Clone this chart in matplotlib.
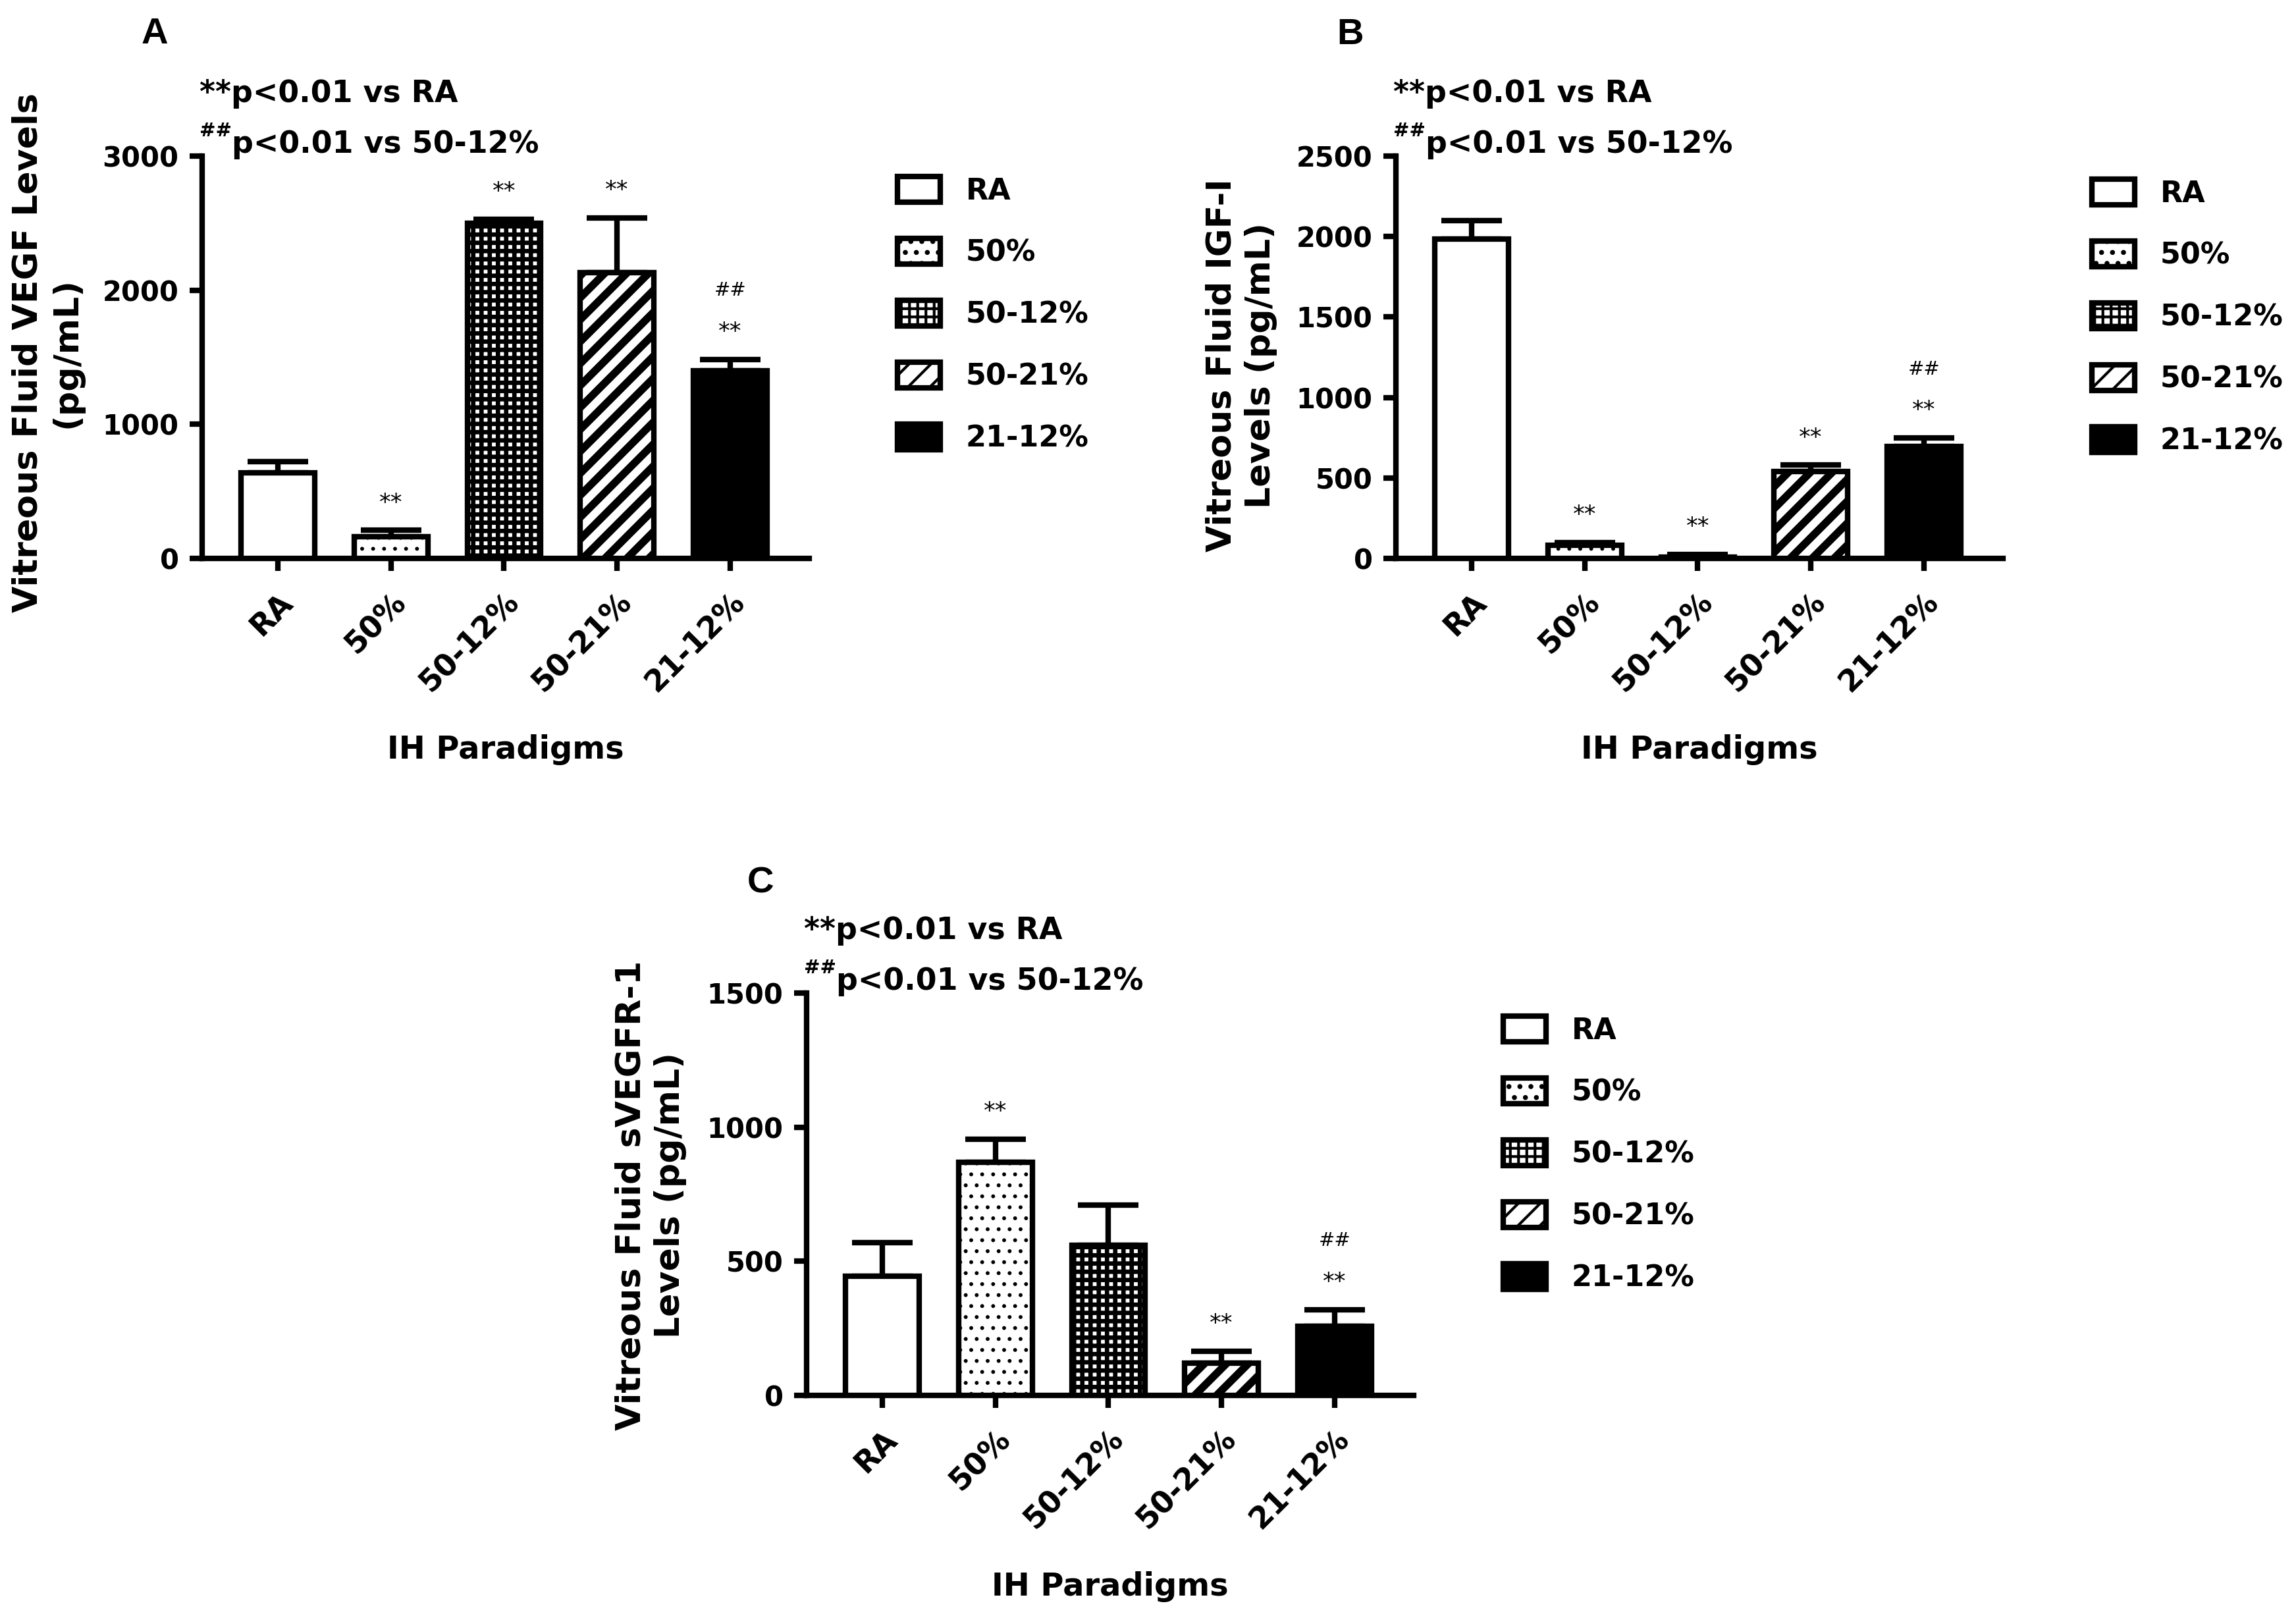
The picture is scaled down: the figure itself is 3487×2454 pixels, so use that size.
import numpy as np
import matplotlib
matplotlib.use('Agg')
import matplotlib.pyplot as plt

# ---------------- data ----------------
categories = ['RA', '50%', '50-12%', '50-21%', '21-12%']

vegf_mean = [640, 160, 2500, 2130, 1400]
vegf_sem = [80, 50, 30, 410, 85]
vegf_star = [False, True, True, True, True]
vegf_hash = [False, False, False, False, True]
vegf_ticks = [0, 1000, 2000, 3000]

igf_mean = [1985, 80, 10, 540, 695]
igf_sem = [115, 20, 15, 40, 55]
igf_star = [False, True, True, True, True]
igf_hash = [False, False, False, False, True]
igf_ticks = [0, 500, 1000, 1500, 2000, 2500]

sv_mean = [445, 870, 560, 120, 258]
sv_sem = [125, 85, 150, 45, 62]
sv_star = [False, True, False, True, True]
sv_hash = [False, False, False, False, True]
sv_ticks = [0, 500, 1000, 1500]

note_star = '**p<0.01 vs RA'
note_hash_sup = '##'
note_hash = 'p<0.01 vs 50-12%'
xlabel = 'IH Paradigms'

# ---------------- styling ----------------
W, H = 3487, 2454
DPI = 300
plt.rcParams['font.family'] = ['DejaVu Sans']
plt.rcParams['font.weight'] = 'bold'

styles = [
    dict(facecolor='white', hatch=None, hlw=1.0),
    dict(facecolor='white', hatch='...', hlw=0.6),
    dict(facecolor='white', hatch='++++', hlw=1.6),
    dict(facecolor='white', hatch='///', hlw=2.8),
    dict(facecolor='black', hatch=None, hlw=1.0),
]

fig = plt.figure(figsize=(W / DPI, H / DPI), dpi=DPI)

AX_W, AX_H = 922, 611


def make_axes(left_px, axis_y_px):
    return fig.add_axes([left_px / W, 1 - axis_y_px / H, AX_W / W, AX_H / H])


def panel(ax, means, sems, stars, hashes, ticks, letter, letter_xy, ylab, ylab_xy, leg_xy):
    x = np.arange(len(categories))
    patches = []
    for i in range(len(categories)):
        st = styles[i]
        with plt.rc_context({'hatch.linewidth': st['hlw'], 'hatch.color': 'black'}):
            b = ax.bar(x[i], means[i], width=0.65, color=st['facecolor'],
                       edgecolor='black', linewidth=2.0, hatch=st['hatch'], zorder=3)
        p = b.patches[0]
        if hasattr(p, 'set_hatch_linewidth'):
            p.set_hatch_linewidth(st['hlw'])
        patches.append(p)
    ax.errorbar(x, means, yerr=[np.zeros(len(means)), sems], fmt='none',
                ecolor='black', elinewidth=2.0, capsize=11, capthick=2.0, zorder=2)
    for i in range(len(categories)):
        top = means[i] + sems[i]
        if stars[i]:
            ax.annotate('**', xy=(x[i], top), xytext=(0, 10), textcoords='offset points',
                        ha='center', va='center', fontsize=8.5, fontweight='normal')
        if hashes[i]:
            ax.annotate('##', xy=(x[i], top), xytext=(0, 25), textcoords='offset points',
                        ha='center', va='center', fontsize=7, fontweight='normal')

    ax.set_xlim(-0.67, 4.70)
    ax.set_ylim(ticks[0], ticks[-1])
    ax.set_yticks(ticks)
    ax.set_yticklabels([str(t) for t in ticks], fontsize=10, fontweight='bold')
    ax.set_xticks(x)
    ax.set_xticklabels(categories, fontsize=11, fontweight='bold', rotation=45,
                       ha='right', rotation_mode='anchor')
    for s in ['top', 'right']:
        ax.spines[s].set_visible(False)
    for s in ['left', 'bottom']:
        ax.spines[s].set_linewidth(2.0)
    ax.tick_params(axis='both', direction='out', length=4.5, width=2.0)
    ax.tick_params(axis='y', pad=4)
    ax.tick_params(axis='x', pad=6)

    ax.text(-0.004, 1.154, note_star, transform=ax.transAxes, ha='left', va='center',
            fontsize=11, fontweight='bold')
    ax.text(-0.004, 1.062, note_hash_sup, transform=ax.transAxes, ha='left', va='center',
            fontsize=7, fontweight='bold')
    ax.text(0.049, 1.028, note_hash, transform=ax.transAxes, ha='left', va='center',
            fontsize=11, fontweight='bold')
    ax.text(0.5, -0.475, xlabel, transform=ax.transAxes, ha='center', va='center',
            fontsize=11.5, fontweight='bold')

    fig.text(letter_xy[0] / W, 1 - letter_xy[1] / H, letter, fontsize=13.5,
             fontweight='bold', family=['Liberation Sans', 'DejaVu Sans'],
             ha='center', va='center')
    fig.text(ylab_xy[0] / W, 1 - ylab_xy[1] / H, ylab, rotation=90, ha='center',
             va='center', multialignment='center', linespacing=1.25,
             fontsize=12.5, fontweight='bold')

    leg = ax.legend(patches, categories, loc='upper left',
                    bbox_to_anchor=(leg_xy[0] / W, 1 - leg_xy[1] / H),
                    bbox_transform=fig.transFigure, frameon=False, borderpad=0,
                    borderaxespad=0, handlelength=1.46, handleheight=0.96,
                    handletextpad=0.87, labelspacing=1.13,
                    prop={'size': 10.7, 'weight': 'bold'})
    for h in leg.legend_handles:
        h.set_linewidth(2.0)


axA = make_axes(307, 848)
panel(axA, vegf_mean, vegf_sem, vegf_star, vegf_hash, vegf_ticks, 'A', (235, 52),
      'Vitreous Fluid VEGF Levels\n(pg/mL)', (72, 535), (1363, 268))

axB = make_axes(2120, 848)
panel(axB, igf_mean, igf_sem, igf_star, igf_hash, igf_ticks, 'B', (2050, 53),
      'Vitreous Fluid IGF-I\nLevels (pg/mL)', (1885, 555), (3177, 272))

axC = make_axes(1225, 2119)
panel(axC, sv_mean, sv_sem, sv_star, sv_hash, sv_ticks, 'C', (1155, 1342),
      'Vitreous Fluid sVEGFR-1\nLevels (pg/mL)', (988, 1815), (2283, 1543))

fig.savefig('out.png', dpi=DPI, facecolor='white')
